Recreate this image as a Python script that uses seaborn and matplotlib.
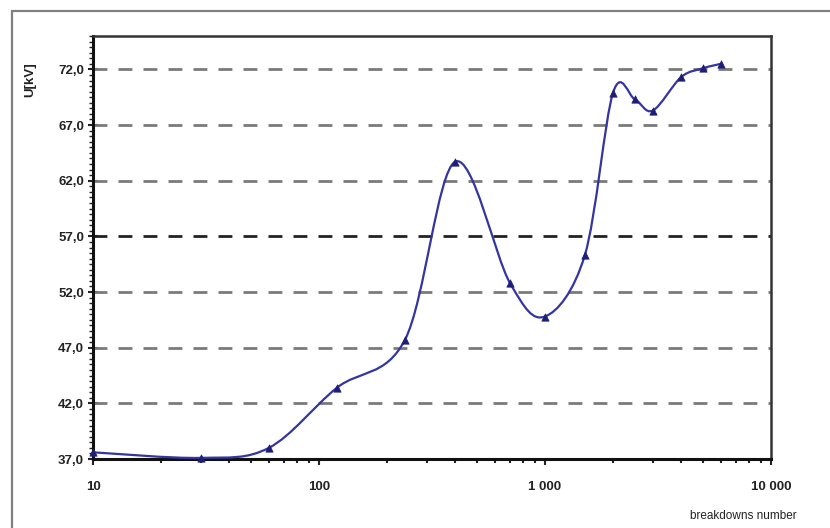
import numpy as np
import pandas as pd
import matplotlib
matplotlib.use("Agg")
import matplotlib.pyplot as plt
from matplotlib.path import Path
from matplotlib.patches import PathPatch, Rectangle
from matplotlib.ticker import FixedLocator, MultipleLocator, LogLocator, NullFormatter
import seaborn as sns

# ---- data ----
breakdowns = [10, 30, 60, 120, 240, 400, 700, 1000, 1500, 2000, 2500, 3000, 4000, 5000, 6000]
voltage_kv = [37.6, 37.1, 38.0, 43.4, 47.7, 63.7, 52.8, 49.8, 55.3, 69.9, 69.3, 68.3, 71.3, 72.1, 72.5]
y_ticks = [37.0, 42.0, 47.0, 52.0, 57.0, 62.0, 67.0, 72.0]
y_tick_labels = ["37,0", "42,0", "47,0", "52,0", "57,0", "62,0", "67,0", "72,0"]
x_ticks = [10, 100, 1000, 10000]
x_tick_labels = ["10", "100", "1 000", "10 000"]
x_label = "breakdowns number"
y_label = "U[kV]"

df = pd.DataFrame({"n": breakdowns, "U": voltage_kv})

sns.set_theme(style="white")
plt.rcParams["font.family"] = ["Liberation Sans", "DejaVu Sans"]

fig = plt.figure(figsize=(8.3, 5.28), dpi=100)
L, R, T, B = 93, 771, 36, 459
ax = fig.add_axes([L / 830, 1 - B / 528, (R - L) / 830, (B - T) / 528])
W, H = R - L, B - T

xmin, xmax, ymin, ymax = 10, 10000, 37.0, 75.0
ax.set_xscale("log")
ax.set_xlim(xmin, xmax)
ax.set_ylim(ymin, ymax)

# dashed horizontal gridlines
for t in y_ticks[1:]:
    col = "#222222" if t == 57.0 else "#7a7a7a"
    ax.axhline(t, color=col, lw=2.0, ls=(0, (5, 4)), zorder=1)

# smooth line (Excel-like Bezier smoothing of the data, in screen-normalised space)
lx = (np.log10(df["n"].to_numpy()) - np.log10(xmin)) / (np.log10(xmax) - np.log10(xmin)) * W
ly = (df["U"].to_numpy() - ymin) / (ymax - ymin) * H
P = np.column_stack([lx, ly])
verts = [P[0]]
codes = [Path.MOVETO]
n = len(P)
for i in range(n - 1):
    p0 = P[i - 1] if i > 0 else P[i]
    p1 = P[i]
    p2 = P[i + 1]
    p3 = P[i + 2] if i + 2 < n else P[i + 1]
    c1 = p1 + (p2 - p0) / 6.0
    c2 = p2 - (p3 - p1) / 6.0
    verts += [c1, c2, p2]
    codes += [Path.CURVE4] * 3
verts = np.array(verts)
vx = 10 ** (verts[:, 0] / W * (np.log10(xmax) - np.log10(xmin)) + np.log10(xmin))
vy = verts[:, 1] / H * (ymax - ymin) + ymin
path = Path(np.column_stack([vx, vy]), codes)
ax.add_patch(PathPatch(path, facecolor="none", edgecolor="#3535a0", lw=1.6, zorder=3))

sns.scatterplot(data=df, x="n", y="U", marker="^", s=28, color="#1e1e78",
                edgecolor="#1e1e78", linewidth=0.5, ax=ax, zorder=4, clip_on=False)

# ticks
ax.yaxis.set_major_locator(FixedLocator(y_ticks))
ax.set_yticklabels(y_tick_labels)
ax.yaxis.set_minor_locator(MultipleLocator(0.5))
ax.xaxis.set_major_locator(FixedLocator(x_ticks))
ax.set_xticklabels(x_tick_labels)
ax.xaxis.set_minor_locator(LogLocator(base=10, subs=np.arange(2, 10)))
ax.xaxis.set_minor_formatter(NullFormatter())

ax.tick_params(axis="y", which="major", direction="inout", length=7, width=1.5,
               labelsize=9.5, colors="#222222", pad=3, left=True)
ax.tick_params(axis="y", which="minor", direction="out", length=3, width=1.0,
               color="#222222", left=True)
ax.tick_params(axis="x", which="major", direction="out", length=4, width=1.5,
               labelsize=9.5, colors="#222222", pad=12, bottom=True)
ax.tick_params(axis="x", which="minor", direction="out", length=3, width=1.5,
               color="#222222", bottom=True)
for lab in ax.get_xticklabels() + ax.get_yticklabels():
    lab.set_fontweight("semibold")

for side in ["left", "bottom"]:
    ax.spines[side].set_color("#111111")
    ax.spines[side].set_linewidth(2.2)
for side in ["top", "right"]:
    ax.spines[side].set_color("#333333")
    ax.spines[side].set_linewidth(1.8)

ax.set_xlabel("")
ax.set_ylabel("")
fig.text(30 / 830, 1 - 80 / 528, y_label, rotation=90, ha="center", va="center",
         fontsize=9.5, color="#222222", fontweight="semibold")
fig.text(797 / 830, 1 - 516 / 528, x_label, ha="right", va="center",
         fontsize=8.5, color="#222222")

# outer frame
fig.patches.append(Rectangle((12 / 830, -0.05), 1.0, 1 - 11 / 528 + 0.05,
                             transform=fig.transFigure, fill=False,
                             edgecolor="#808080", lw=1.6, zorder=0))

fig.savefig("out.png", dpi=100)
